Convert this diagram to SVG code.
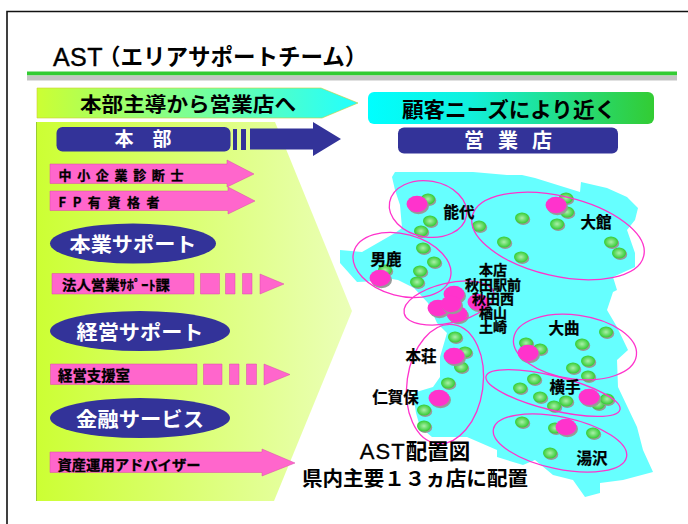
<svg xmlns="http://www.w3.org/2000/svg" width="688" height="524" viewBox="0 0 688 524">
<style>
text{font-family:"Noto Sans CJK JP","Liberation Sans",sans-serif;font-weight:700;fill:#000;text-anchor:middle}
.w{fill:#fff}
.nav{fill:#333399}
.pk{fill:#ff66cc;stroke:#d84aa8;stroke-width:.5}
.ring{fill:none;stroke:#ff33cc;stroke-width:1.3}
.lb{font-size:15.500px;stroke:#000;stroke-width:.25}
.sm{stroke:#000;stroke-width:.3}
.lat{font-family:"Liberation Sans",sans-serif}
</style>
<defs>
<linearGradient id="gPanel"><stop offset="0" stop-color="#ccff33"/><stop offset="1" stop-color="#ebffb8"/></linearGradient>
<linearGradient id="gTop"><stop offset="0" stop-color="#ccff33"/><stop offset="1" stop-color="#22ffff"/></linearGradient>
<linearGradient id="gRight"><stop offset="0" stop-color="#00ffff"/><stop offset=".35" stop-color="#11f0dd"/><stop offset="1" stop-color="#33cc33"/></linearGradient>
<radialGradient id="gDot"><stop offset="0" stop-color="#aaf0aa"/><stop offset="1" stop-color="#33cc33"/></radialGradient>
<g id="dot"><ellipse cx="1.200" cy="1.400" rx="7" ry="5.500" fill="#999"/><ellipse rx="7" ry="5.500" fill="url(#gDot)"/></g>
<g id="pin"><ellipse cx="1.500" cy="2" rx="10.500" ry="8.200" fill="#999"/><ellipse rx="10.500" ry="8.200" fill="#ff33cc"/></g>
</defs>
<rect width="688" height="524" fill="#fff"/>
<g id="frame"><path d="M7 524V11.500H688" fill="none" stroke="#111" stroke-width="1.600"/></g>
<g id="title">
<text class="lat" x="53" y="66" font-size="25" letter-spacing=".4" style="text-anchor:start;font-weight:400;stroke:#000;stroke-width:.4">AST</text>
<text x="98" y="65" font-size="22.500" style="text-anchor:start">（エリアサポートチーム）</text>
<rect x="27" y="71.500" width="650" height="4" fill="#33cc33"/><rect x="27" y="75.500" width="650" height="5" fill="#c4c4c4"/>
</g>
<g id="panel"><path d="M36 122H275L352 311L274 501H36Z" fill="url(#gPanel)"/><path d="M36.500 122V501" stroke="#99cc33" stroke-width="1"/></g>
<g id="banner-left"><path d="M37 88H321L358 103L322 118H37Z" fill="url(#gTop)" stroke="#cccc33" stroke-width=".6"/><text x="188" y="112" font-size="20" textLength="216" lengthAdjust="spacingAndGlyphs">本部主導から営業店へ</text></g>
<g id="banner-right"><rect x="368" y="92" width="286" height="32" rx="6" fill="url(#gRight)"/><text x="509" y="117" font-size="21" textLength="214" lengthAdjust="spacingAndGlyphs">顧客ニーズにより近く</text></g>
<g id="honbu"><rect x="56.500" y="127" width="174" height="24.500" rx="6" class="nav"/><text class="w" x="143" y="146" font-size="19">本　部</text></g>
<g id="honbu-arrow" class="nav"><rect x="233" y="129" width="4" height="21"/><rect x="241" y="129" width="5" height="21"/><path d="M250 128.500H313V122L341 139L313 156V149.500H250Z"/></g>
<g id="eigyoten"><rect x="398" y="127.500" width="220" height="26" rx="6" class="nav"/><text class="w" x="508" y="148" font-size="20" textLength="88" lengthAdjust="spacing">営業店</text></g>
<g id="a1"><path class="pk" d="M50 164H227V160L254 174L227 187V183.500H50Z"/><text class="sm" x="121" y="180" font-size="13" textLength="125" lengthAdjust="spacing">中小企業診断士</text></g>
<g id="a2"><path class="pk" d="M50 191H228V187L255 201L228 214V210.500H50Z"/><text class="sm" x="109" y="207" font-size="13" textLength="101" lengthAdjust="spacing">FP有資格者</text></g>
<g id="e1"><ellipse cx="133" cy="243.500" rx="83" ry="20" class="nav"/><text class="w" x="133" y="252" font-size="20" textLength="127" lengthAdjust="spacingAndGlyphs">本業サポート</text></g>
<g id="a3"><path class="pk" d="M52 273.500H194V294H52ZM200.500 273.500H219.500V294H200.500ZM225.500 273.500H235V294H225.500ZM242.500 273.500H252V294H242.500ZM260 274L284 284L260 294Z"/><text class="sm" x="116" y="290" font-size="13.500" textLength="108" lengthAdjust="spacingAndGlyphs">法人営業ｻﾎﾟｰﾄ課</text></g>
<g id="e2"><ellipse cx="140" cy="331" rx="90" ry="20" class="nav"/><text class="w" x="140" y="340" font-size="20" textLength="127" lengthAdjust="spacingAndGlyphs">経営サポート</text></g>
<g id="a4"><path class="pk" d="M50.500 364H197V384.500H50.500ZM203.500 364H222V384.500H203.500ZM229.500 364H239V384.500H229.500ZM246.500 364H256.500V384.500H246.500ZM264 364L290 374.500L264 385Z"/><text class="sm" x="94" y="381" font-size="14.500" textLength="72" lengthAdjust="spacingAndGlyphs">経営支援室</text></g>
<g id="e3"><ellipse cx="140" cy="418" rx="90" ry="20" class="nav"/><text class="w" x="140" y="427" font-size="20" textLength="128" lengthAdjust="spacingAndGlyphs">金融サービス</text></g>
<g id="a5"><path class="pk" d="M50 452H262V449L295 463L262 476V472.500H50Z"/><text class="sm" x="129" y="470" font-size="14" textLength="143" lengthAdjust="spacingAndGlyphs">資産運用アドバイザー</text></g>
<g id="map">
<path fill="#66ffff" d="M392 177L395 172L438 172L473 172L507 175L522 175L535 178L580 192L581 182L607 188L627 197L638 208L635 220L627 230L635 253L635 267L613 277L617 290L613 292L607 310L617 327L628 350L617 360L618 387L637 427L643 450L653 472L623 480L600 483L600 493L585 497L573 480L553 475L535 460L523 465L497 457L497 450L467 437L432 437L420 427L416 413L413 393L433 387L440 377L440 357L447 333L437 323L428 303L414 288L398 280L392 279L378 281L357 282L340 263L340 250L362 252L395 233L402 228L400 205L395 190Z"/>
</g>
<g id="dots">
<use href="#dot" x="428" y="199"/><use href="#dot" x="430" y="221"/><use href="#dot" x="421" y="231"/><use href="#dot" x="423" y="248"/><use href="#dot" x="434" y="262"/><use href="#dot" x="420" y="271"/><use href="#dot" x="417" y="282"/><use href="#dot" x="385" y="270"/><use href="#dot" x="479" y="226"/><use href="#dot" x="522" y="218"/><use href="#dot" x="504" y="242"/><use href="#dot" x="521" y="257"/><use href="#dot" x="566" y="198"/><use href="#dot" x="567" y="212"/><use href="#dot" x="557" y="224"/><use href="#dot" x="611" y="242"/><use href="#dot" x="619" y="253"/>
<use href="#dot" x="455" y="337"/><use href="#dot" x="465" y="352"/><use href="#dot" x="461" y="367"/><use href="#dot" x="448" y="383"/><use href="#dot" x="424" y="410"/><use href="#dot" x="424" y="426"/><use href="#dot" x="526" y="343"/><use href="#dot" x="540" y="349"/><use href="#dot" x="582" y="344"/><use href="#dot" x="606" y="332"/><use href="#dot" x="588" y="361"/><use href="#dot" x="573" y="368"/><use href="#dot" x="588" y="376"/><use href="#dot" x="534" y="379"/><use href="#dot" x="520" y="388"/><use href="#dot" x="540" y="397"/><use href="#dot" x="554" y="406"/><use href="#dot" x="566" y="401"/><use href="#dot" x="598" y="404"/><use href="#dot" x="607" y="399"/><use href="#dot" x="522" y="422"/><use href="#dot" x="555" y="428"/><use href="#dot" x="593" y="433"/><use href="#dot" x="550" y="453"/>
</g>
<g id="pins">
<use href="#pin" x="417" y="204"/><use href="#pin" x="556" y="205"/><use href="#pin" x="380" y="278"/><use href="#pin" x="478" y="302"/><use href="#pin" x="454" y="294"/><use href="#pin" x="457" y="314"/><use href="#pin" x="438" y="308"/><use href="#pin" x="451" y="304"/><use href="#pin" x="454" y="356"/><use href="#pin" x="439" y="398"/><use href="#pin" x="528" y="353"/><use href="#pin" x="589" y="397"/><use href="#pin" x="566" y="427"/>
</g>
<g id="rings">
<ellipse class="ring" cx="428" cy="209" rx="39" ry="28" transform="rotate(10 428 209)"/>
<ellipse class="ring" cx="558" cy="236" rx="88" ry="40" transform="rotate(13 558 236)"/>
<ellipse class="ring" cx="402" cy="265" rx="50" ry="31" transform="rotate(15 402 265)"/>
<ellipse class="ring" cx="449" cy="303" rx="46" ry="20" transform="rotate(-13 449 303)"/>
<ellipse class="ring" cx="445" cy="384" rx="38" ry="60" transform="rotate(8 445 384)"/>
<ellipse class="ring" cx="575" cy="347" rx="62" ry="32" transform="rotate(8 575 347)"/>
<ellipse class="ring" cx="553" cy="393" rx="69" ry="17" transform="rotate(14 553 393)"/>
<ellipse class="ring" cx="560" cy="443" rx="68" ry="26" transform="rotate(12 560 443)"/>
</g>
<g id="labels">
<text class="lb" x="459" y="218">能代</text>
<text class="lb" x="596" y="228">大館</text>
<text class="lb" x="386" y="265">男鹿</text>
<text class="sm" x="493" y="275" font-size="14">本店</text>
<text class="sm" x="493" y="289.500" font-size="14">秋田駅前</text>
<text class="sm" x="493" y="304" font-size="14">秋田西</text>
<text class="sm" x="493" y="318" font-size="14">楢山</text>
<text class="sm" x="493" y="332" font-size="14">土崎</text>
<text class="lb" x="564" y="334">大曲</text>
<text class="lb" x="421" y="362">本荘</text>
<text class="lb" x="395.500" y="403">仁賀保</text>
<text class="lb" x="565" y="393">横手</text>
<text class="lb" x="592" y="464">湯沢</text>
<text x="415" y="459" font-size="21.500"><tspan class="lat" style="font-weight:400;stroke:#000;stroke-width:.3" font-size="22" letter-spacing="1">AST</tspan>配置図</text>
<text x="415" y="486" font-size="20" textLength="226" lengthAdjust="spacingAndGlyphs">県内主要１３ヵ店に配置</text>
</g>
</svg>
